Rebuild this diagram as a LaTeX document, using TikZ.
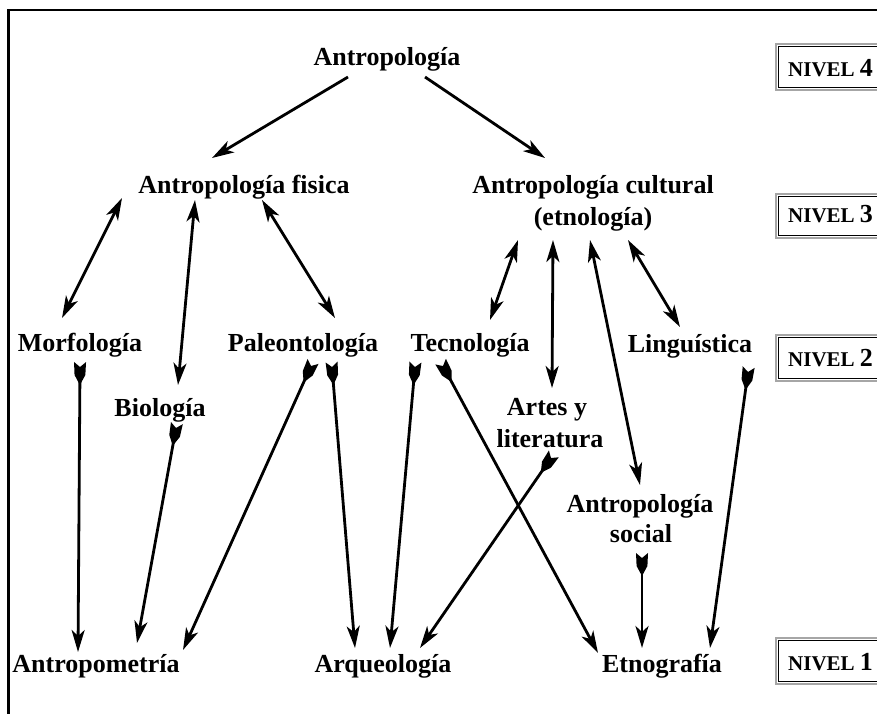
\documentclass[tikz,border=0pt]{standalone}
\usepackage{fontspec}
\setmainfont{Liberation Serif}
\usetikzlibrary{arrows.meta,calc,decorations.markings}
\begin{document}
\begin{tikzpicture}[x=1pt,y=-1pt,
  lbl/.style={font=\fontsize{26}{30}\selectfont\bfseries, inner sep=0pt, anchor=base},
  hd/.tip={Stealth[length=22pt,width=13pt,inset=6pt]},
  con/.style={line width=2.8pt, -hd},
  dcon/.style={line width=2.8pt, hd-hd},
  fcon/.style={line width=2.8pt, -hd, postaction={decorate},
    decoration={markings, mark=at position 0 with {\fill (-5,6) -- (0,0) -- (-5,-6) -- (8,-5.4) -- (18,0) -- (8,5.4) -- cycle;}}},
  lvl/.style={font=\fontsize{21}{25}\selectfont\bfseries, inner sep=0pt, anchor=base west}
]
\useasboundingbox (0,0) rectangle (877,713);
% frame
\draw[line width=2.6pt, line cap=rect] (8.5,713) -- (8.5,10) -- (877,10);

% level boxes
\foreach \nm/\yt/\yb/\bl/\num in {n4/44/90/76/4, n3/194/238/222/3, n2/335/381/366/2, n1/638/684/670/1}{
  \draw[gray!70, line width=2pt] (776,\yt) rectangle (885,\yb);
  \draw[black, line width=0.9pt] (778.5,\yt+2.5) rectangle (885,\yb-2.5);
  \node[lvl] (\nm) at (788,\bl) {NIVEL {\fontsize{26}{30}\selectfont\num}};
}

% concept nodes
\node[lbl] (ant) at (387,65) {Antropología};
\node[lbl] (fis) at (244,193) {Antropología fisica};
\node[lbl] (cul) at (593,193) {Antropología cultural};
\node[lbl] (cul2) at (593,225) {(etnología)};
\node[lbl] (mor) at (80,351) {Morfología};
\node[lbl] (pal) at (303,351) {Paleontología};
\node[lbl] (tec) at (470,351) {Tecnología};
\node[lbl] (lin) at (690,352) {Linguística};
\node[lbl] (bio) at (160,416) {Biología};
\node[lbl] (art) at (547,415) {Artes y};
\node[lbl] (art2) at (550,447) {literatura};
\node[lbl] (soc) at (640,512) {Antropología};
\node[lbl] (soc2) at (641,542) {social};
\node[lbl] (apm) at (96,672) {Antropometría};
\node[lbl] (arq) at (383,672) {Arqueología};
\node[lbl] (etn) at (662,672) {Etnografía};

% top connectors
\draw[con] ($(ant.base)+(-39,12)$) -- ($(fis.base)+(-32,-35)$);
\draw[con] ($(ant.base)+(38,12)$) -- ($(cul.base)+(-48,-35)$);

% double arrows
\draw[dcon] ($(fis.base)+(-122,5)$) -- ($(mor.base)+(-18,-33)$);
\draw[dcon] ($(fis.base)+(-49,7)$) -- ($(bio.base)+(18,-31)$);
\draw[dcon] ($(fis.base)+(18,7)$) -- ($(pal.base)+(32,-33)$);
\draw[dcon] ($(cul2.base)+(-75,15)$) -- ($(tec.base)+(20,-31)$);
\draw[dcon] ($(cul2.base)+(-40,15)$) -- ($(art.base)+(5,-27)$);
\draw[dcon] ($(cul2.base)+(-3,15)$) -- ($(soc.base)+(0,-27)$);
\draw[dcon] ($(cul2.base)+(35,15)$) -- ($(lin.base)+(-10,-25)$);

% fletched arrows
\draw[fcon] ($(mor.base)+(0,16)$) -- ($(apm.base)+(-18,-20)$);
\draw[fcon] ($(bio.base)+(16,12)$) -- ($(apm.base)+(41,-29)$);
\draw[fcon] ($(pal.base)+(8,15)$) -- ($(apm.base)+(87,-22)$);
\draw[fcon] ($(pal.base)+(29,16)$) -- ($(arq.base)+(-28,-24)$);
\draw[fcon] ($(tec.base)+(-55,16)$) -- ($(arq.base)+(7,-24)$);
\draw[fcon] ($(tec.base)+(-27,15)$) -- ($(etn.base)+(-64,-19)$);
\draw[fcon] ($(art2.base)+(1,11)$) -- ($(arq.base)+(37,-24)$);
\draw[fcon] ($(soc2.base)+(1,16)$) -- ($(etn.base)+(-20,-24)$);
\draw[fcon] ($(lin.base)+(58,20)$) -- ($(etn.base)+(48,-24)$);
\end{tikzpicture}
\end{document}
